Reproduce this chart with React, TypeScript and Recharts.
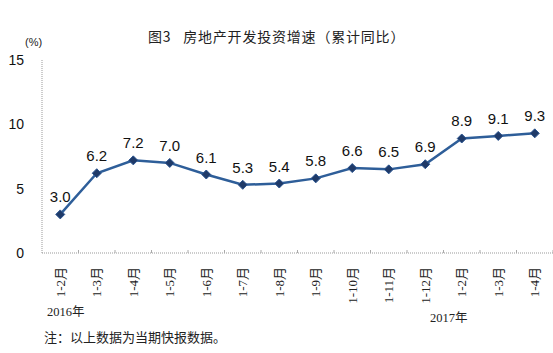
import React from 'react';
import { LineChart, Line, XAxis, YAxis, LabelList } from 'recharts';

const months = ['1-2月', '1-3月', '1-4月', '1-5月', '1-6月', '1-7月', '1-8月', '1-9月', '1-10月', '1-11月', '1-12月', '1-2月', '1-3月', '1-4月'];
const growth = [3.0, 6.2, 7.2, 7.0, 6.1, 5.3, 5.4, 5.8, 6.6, 6.5, 6.9, 8.9, 9.1, 9.3];
const yTicks = [0, 5, 10, 15];

const data = months.map((m, i) => ({ key: i, month: m, value: growth[i] }));

const serif = '"Liberation Serif", "Noto Sans CJK SC", serif';
const sans = '"Liberation Sans", Arial, sans-serif';

const CHART_W = 553;
const Y_W = 42;
const HALF_STEP = (CHART_W - Y_W) / months.length / 2;

const Diamond = (props: any) => {
  const { cx, cy } = props;
  if (cx == null || cy == null) return null;
  const r = 4.5;
  return (
    <polygon
      points={`${cx},${cy - r} ${cx + r},${cy} ${cx},${cy + r} ${cx - r},${cy}`}
      fill="#1F3A68"
      stroke="#2B5591"
      strokeWidth={1}
    />
  );
};

const MonthTick = (props: any) => {
  const { x, y, payload } = props;
  return (
    <g>
      <line x1={x + HALF_STEP} y1={y} x2={x + HALF_STEP} y2={y - 3} stroke="#aaa" strokeWidth={1} />
      <text
        transform={`translate(${x}, ${y + 14}) rotate(-90)`}
        textAnchor="end"
        dominantBaseline="central"
        fontSize={13}
        fontFamily={serif}
        fill="#222"
      >
        {months[payload.value]}
      </text>
    </g>
  );
};

const textStyle: React.CSSProperties = { position: 'absolute', whiteSpace: 'pre', lineHeight: 1 };

export default function App() {
  return (
    <div style={{ position: 'absolute', left: 0, top: 0, width: 553, height: 353, background: '#fff' }}>
      <div style={{ ...textStyle, left: 148, top: 29, fontSize: 14, letterSpacing: 0.8, fontFamily: '"Noto Sans CJK SC", sans-serif', color: '#222' }}>
        {'图3   房地产开发投资增速（累计同比）'}
      </div>
      <div style={{ ...textStyle, left: 25, top: 37, fontSize: 11, fontFamily: sans, color: '#222' }}>(%)</div>
      <LineChart width={CHART_W} height={353} data={data} margin={{ top: 60, right: 0, left: 0, bottom: 40 }}>
        <XAxis
          dataKey="key"
          type="category"
          height={60}
          interval={0}
          padding={{ left: HALF_STEP, right: HALF_STEP }}
          tickSize={0}
          tickMargin={0}
          tick={<MonthTick />}
          axisLine={{ stroke: '#999', strokeDasharray: '1 1' }}
          tickLine={false}
        />
        <YAxis
          width={Y_W}
          domain={[0, 15]}
          ticks={yTicks}
          tickSize={0}
          tickMargin={18}
          tickLine={false}
          axisLine={{ stroke: '#999', strokeDasharray: '1 1' }}
          tick={{ fontSize: 14, fontFamily: sans, fill: '#111' }}
        />
        <Line
          type="linear"
          dataKey="value"
          stroke="#2E5E99"
          strokeWidth={2.5}
          dot={<Diamond />}
          activeDot={false}
          isAnimationActive={false}
        >
          <LabelList
            dataKey="value"
            position="top"
            offset={12}
            formatter={(v: any) => Number(v).toFixed(1)}
            style={{ fontSize: 15, fontFamily: sans, fill: '#111' }}
          />
        </Line>
      </LineChart>
      <div style={{ ...textStyle, left: 47, top: 306, fontSize: 12.5, fontFamily: serif, color: '#222' }}>2016年</div>
      <div style={{ ...textStyle, left: 430, top: 312, fontSize: 12.5, fontFamily: serif, color: '#222' }}>2017年</div>
      <div style={{ ...textStyle, left: 44, top: 331, fontSize: 13, fontFamily: serif, color: '#222' }}>
        注：以上数据为当期快报数据。
      </div>
    </div>
  );
}
